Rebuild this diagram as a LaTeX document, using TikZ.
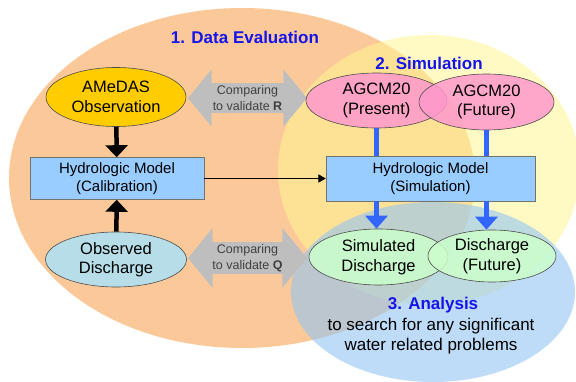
\documentclass[tikz,border=0pt]{standalone}
\usepackage{fontspec}
\setmainfont{Liberation Sans}
\usepackage{tikz}
\usetikzlibrary{arrows,arrows.meta,shapes.geometric,shapes.arrows}
\definecolor{evalorange}{RGB}{251,201,153}
\definecolor{simyellow}{RGB}{255,246,146}
\definecolor{anablue}{RGB}{147,197,243}
\definecolor{boxblue}{RGB}{153,204,255}
\definecolor{amedas}{RGB}{255,204,0}
\definecolor{obsdis}{RGB}{183,222,232}
\definecolor{agcm}{RGB}{255,153,204}
\definecolor{simgreen}{RGB}{204,255,204}
\definecolor{arrgray}{RGB}{190,190,190}
\definecolor{ttlblue}{RGB}{20,20,235}
\definecolor{lineblue}{RGB}{51,102,255}
\tikzstyle{es} = [-triangle 60]
\tikzstyle{bub} = [ellipse, draw=black!70, line width=0.6pt, inner sep=0pt, align=center, font=\fontsize{16.5}{19.5}\selectfont]
\tikzstyle{mbox} = [rectangle, draw=black!55, fill=boxblue, line width=0.6pt, inner sep=0pt, align=center, font=\fontsize{15}{18}\selectfont]
\tikzstyle{cmp} = [double arrow, fill=arrgray, double arrow head extend=14pt, double arrow tip angle=101, minimum height=119pt, inner xsep=2pt, inner ysep=2pt, align=center, text=black!75, font=\fontsize{12.5}{16}\selectfont]
\tikzstyle{ttl} = [text=ttlblue, font=\bfseries\fontsize{17}{20}\selectfont]
\tikzstyle{bk} = [line width=4.5pt, -{Triangle[width=22pt,length=12pt]}]
\tikzstyle{bl} = [draw=lineblue, line width=4.5pt]
\tikzstyle{bla} = [bl, -{Triangle[width=22pt,length=13pt]}]

\begin{document}
\begin{tikzpicture}[yscale=-1]
			\useasboundingbox (0pt,0pt) rectangle (576pt,382pt);
			% the three stages
			\fill[evalorange] (242pt,178pt) ellipse [x radius=233pt, y radius=170pt];
			\fill[simyellow, fill opacity=0.55] (429pt,170pt) ellipse [x radius=151pt, y radius=135pt];
			\fill[anablue, fill opacity=0.6] (433pt,292pt) ellipse [x radius=142pt, y radius=90pt];
			\node[ttl] (evalttl) at (245pt,37pt) {1. Data Evaluation};
			\node[ttl] (simttl) at (429pt,63pt) {2. Simulation};
			\node[ttl] (anattl) at (433pt,305pt) {3. Analysis};
			\node[align=center, font=\fontsize{17}{20}\selectfont] (anatxt) at (431pt,336pt) {to search for any significant\\water related problems};
			% comparisons
			\node[cmp] (cmpR) at (247.5pt,98pt) {Comparing\\to validate \textbf{R}};
			\node[cmp] (cmpQ) at (247.5pt,258pt) {Comparing\\to validate \textbf{Q}};
			% data evaluation
			\node[bub, fill=amedas, minimum width=140pt, minimum height=59pt] (amedas) at (116pt,97pt) {AMeDAS\\Observation};
			\node[mbox, minimum width=174pt, minimum height=42pt] (calib) at (117pt,178.5pt) {Hydrologic Model\\(Calibration)};
			\node[bub, fill=obsdis, minimum width=141pt, minimum height=55pt] (obsdis) at (116pt,259.5pt) {Observed\\Discharge};
			\draw[bk] (amedas) -- (calib);
			\draw[bk] (obsdis) -- (calib);
			% simulation
			\node[bub, fill=agcm, fill opacity=0.85, text opacity=1, minimum width=141pt, minimum height=55pt] (present) at (376.5pt,100.5pt) {AGCM20\\(Present)};
			\node[bub, fill=agcm, fill opacity=0.85, text opacity=1, minimum width=135pt, minimum height=56pt] (future) at (486.5pt,102pt) {AGCM20\\(Future)};
			\node[mbox, minimum width=209pt, minimum height=45pt] (simu) at (430.5pt,178.5pt) {Hydrologic Model\\(Simulation)};
			\draw[es, line width=1pt] (calib) -- (simu);
			\draw[bl] (present.south) -- (present.south |- simu.north);
			\draw[bl] (future.south) -- (future.south |- simu.north);
			% analysis
			\node[bub, fill=simgreen, fill opacity=0.85, text opacity=1, minimum width=139pt, minimum height=56pt] (simdis) at (378.5pt,257pt) {Simulated\\Discharge};
			\node[bub, fill=simgreen, fill opacity=0.85, text opacity=1, minimum width=128pt, minimum height=52pt] (futdis) at (492pt,256pt) {Discharge\\(Future)};
			\draw[bla] (simu.south -| present.south) -- (simdis.north -| present.south);
			\draw[bla] (simu.south -| future.south) -- (futdis.north -| future.south);
		\end{tikzpicture}
\end{document}
